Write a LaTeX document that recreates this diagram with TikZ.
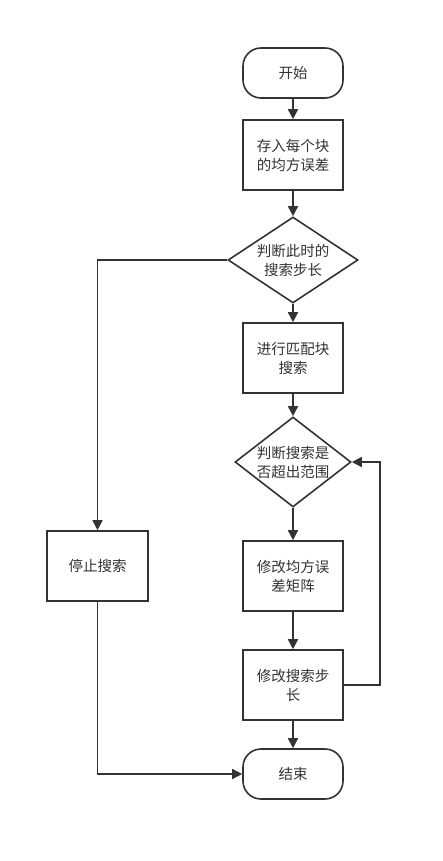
\documentclass[tikz,border=0pt]{standalone}
\usepackage{fontspec}
\setmainfont{Noto Sans CJK SC}
\usetikzlibrary{shapes.geometric,arrows.meta}
\definecolor{ln}{HTML}{333333}
\tikzset{
  base/.style={draw=ln, line width=1.6pt, text=ln, font=\fontsize{14.5}{19}\selectfont, align=center, fill=white},
  term/.style={base, rounded corners=18pt, minimum width=100pt, minimum height=50pt},
  proc/.style={base, minimum width=100pt, minimum height=70pt, inner sep=0pt},
  dia/.style={draw=ln, line width=1.6pt, fill=white, diamond, inner sep=0pt},
  conn/.style={draw=ln, line width=1.6pt, -{Triangle[length=10pt,width=10pt]}},
}
\begin{document}
\begin{tikzpicture}[x=1pt,y=-1pt]
\useasboundingbox (0,0) rectangle (442,861);
\node[term] (start) at (293,73) {开始};
\node[proc] (b1) at (293,155) {存入每个块\\的均方误差};
\node[dia, minimum width=130pt, minimum height=86pt,
  label={[base,draw=none,fill=none]center:判断此时的\\搜索步长}] (d1) at (293,260) {};
\node[proc] (b2) at (293,358) {进行匹配块\\搜索};
\node[dia, minimum width=116pt, minimum height=90pt,
  label={[base,draw=none,fill=none]center:判断搜索是\\否超出范围}] (d2) at (293,462) {};
\node[proc] (b3) at (293,576) {修改均方误\\差矩阵};
\node[proc] (b4) at (293,685) {修改搜索步\\长};
\node[term] (end) at (293,774) {结束};
\node[proc, minimum width=101pt] (stop) at (97.5,566) {停止搜索};
\coordinate (r) at (380,685);
\draw[conn] (start) -- (b1);
\draw[conn] (b1) -- (d1);
\draw[conn] (d1) -- (b2);
\draw[conn] (b2) -- (d2);
\draw[conn] (d2) -- (b3);
\draw[conn] (b3) -- (b4);
\draw[conn] (b4) -- (end);
\draw[conn] (d1.west) -| (stop.north);
\draw[conn] (stop.south) |- (end.west);
\draw[conn] (b4.east) -- (r) |- (d2.east);
\end{tikzpicture}
\end{document}
